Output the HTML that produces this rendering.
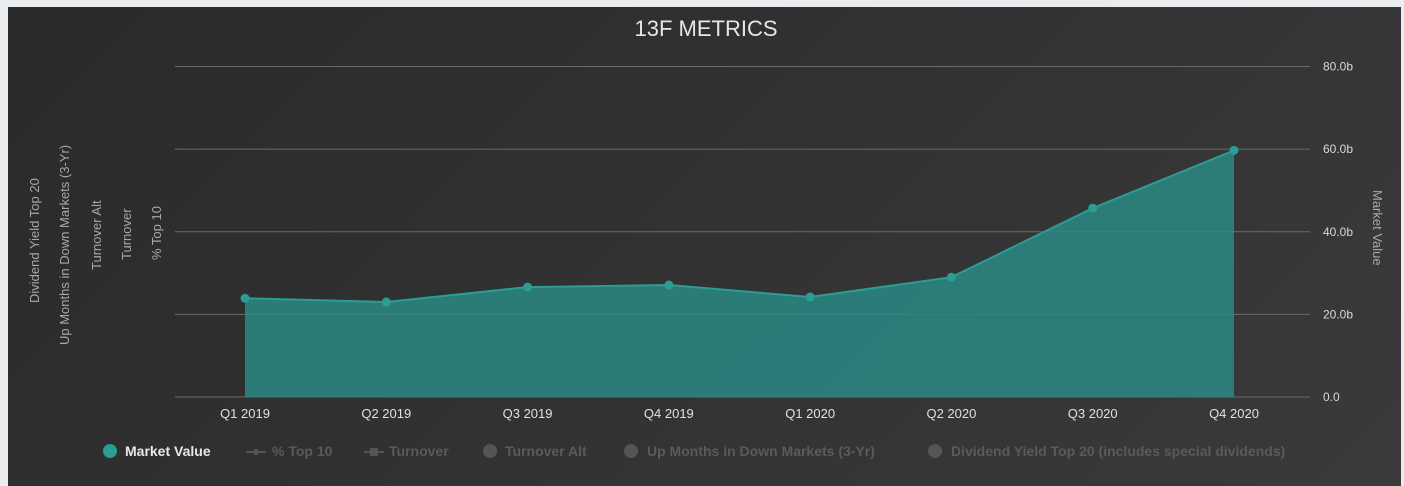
<!DOCTYPE html>
<html><head><meta charset="utf-8"><style>
body{margin:0;width:1404px;height:486px;background:#e9edf0;overflow:hidden;font-family:"Liberation Sans",sans-serif}
#panel{position:absolute;left:8px;top:7px;width:1393px;height:479px;background:linear-gradient(135deg,#2a2a2a,#3a3a3c)}
svg{position:absolute;left:0;top:0}
</style></head><body>
<div id="panel"></div>
<svg id="chart" width="1404" height="486">
<text x="706" y="36" text-anchor="middle" fill="#e6e6e6" font-size="22">13F METRICS</text>
<g id="grid"></g><g id="area"></g><g id="xlabels"></g>
<g fill="#a8a8a8" font-size="13">
<text transform="translate(39,303) rotate(-90)">Dividend Yield Top 20</text>
<text transform="translate(69,345) rotate(-90)">Up Months in Down Markets (3-Yr)</text>
<text transform="translate(101,270) rotate(-90)">Turnover Alt</text>
<text transform="translate(131,260) rotate(-90)">Turnover</text>
<text transform="translate(161,260) rotate(-90)">% Top 10</text>
</g>
<text transform="translate(1373,190) rotate(90)" fill="#a8a8a8" font-size="13">Market Value</text>
<g font-size="14" font-weight="bold">
<g><circle cx="110" cy="451" r="7" fill="#2a9d94"/><text x="125" y="456" fill="#e8e8e8">Market Value</text></g>
<g><line x1="246" y1="452" x2="266" y2="452" stroke="#555" stroke-width="2"/><circle cx="256" cy="452" r="3" fill="#555"/><text x="272" y="456" fill="#5a5a5a">% Top 10</text></g>
<g><line x1="364" y1="452" x2="384" y2="452" stroke="#555" stroke-width="2"/><rect x="370" y="448" width="8" height="8" fill="#555"/><text x="389" y="456" fill="#5a5a5a">Turnover</text></g>
<g><circle cx="490" cy="451" r="7" fill="#555"/><text x="505" y="456" fill="#5a5a5a">Turnover Alt</text></g>
<g><circle cx="631" cy="451" r="7" fill="#555"/><text x="647" y="456" fill="#5a5a5a">Up Months in Down Markets (3-Yr)</text></g>
<g><circle cx="935" cy="451" r="7" fill="#555"/><text x="951" y="456" fill="#5a5a5a">Dividend Yield Top 20 (includes special dividends)</text></g>
</g>
</svg>
<script>
const categories=["Q1 2019","Q2 2019","Q3 2019","Q4 2019","Q1 2020","Q2 2020","Q3 2020","Q4 2020"];
const marketValue=[23.9,23.0,26.6,27.1,24.2,29.0,45.7,59.7];
const yTicks=[0,20,40,60,80];
const yTickLabels=["0.0","20.0b","40.0b","60.0b","80.0b"];
const NS="http://www.w3.org/2000/svg";
const x0=245,x1=1234,py0=397,py1=66.5,ymax=80;
const xs=i=>x0+(x1-x0)*i/(categories.length-1);
const ys=v=>py0-(py0-py1)*v/ymax;
function mk(t,a,p){const e=document.createElementNS(NS,t);for(const k in a)e.setAttribute(k,a[k]);p.appendChild(e);return e;}
const grid=document.getElementById('grid');
yTicks.forEach((v,i)=>{
 const l=mk('line',{x1:175,x2:1310,y1:ys(v),y2:ys(v),stroke:'#6a6a6a','stroke-width':1},grid);
 
 
 const t=mk('text',{x:1323,y:ys(v)+4,fill:'#d8d8d8','font-size':12},grid);
 t.textContent=yTickLabels[i];
 
 
});
const area=document.getElementById('area');
let d=`M${xs(0)},${ys(0)}`;marketValue.forEach((v,i)=>d+=`L${xs(i)},${ys(v)}`);d+=`L${xs(marketValue.length-1)},${ys(0)}Z`;
const a=mk('path',{d:d,fill:'#2a8a84','fill-opacity':0.85},area);


const ln=mk('polyline',{points:marketValue.map((v,i)=>xs(i)+','+ys(v)).join(' '),fill:'none',stroke:'#2a9d94','stroke-width':2},area);


marketValue.forEach((v,i)=>{
 const c=mk('circle',{cx:xs(i),cy:ys(v),r:4.5,fill:'#2a9d94'},area);
 
 
});
const xl=document.getElementById('xlabels');
categories.forEach((c,i)=>{
 const t=mk('text',{x:xs(i),y:418,fill:'#e0e0e0','font-size':13,'text-anchor':'middle'},xl);
 t.textContent=c;
 
 
});
</script>
</body></html>
